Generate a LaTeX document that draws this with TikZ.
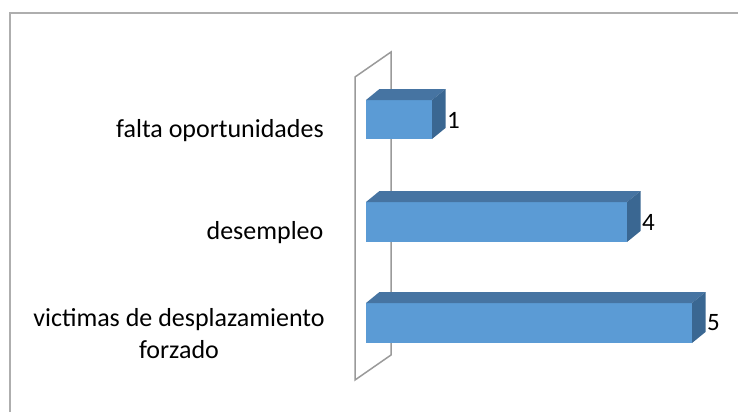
\documentclass[tikz,border=0pt]{standalone}
\usepackage{fontspec}
\setmainfont{Carlito}
\definecolor{barfront}{HTML}{5B9BD5}
\definecolor{bartop}{HTML}{4674A2}
\definecolor{barside}{HTML}{3A6792}
\definecolor{wallgray}{HTML}{9A9A9A}
\tikzset{
  catlabel/.style={align=center, font=\fontsize{26}{32}\selectfont, inner sep=0pt},
  vallabel/.style={anchor=west, font=\fontsize{25}{30}\selectfont, inner sep=0pt},
  wall/.style={draw=wallgray, line width=1.5pt},
}
\begin{document}
\begin{tikzpicture}[x=1pt, y=-1pt]
    \useasboundingbox (0,0) rectangle (738,412);
    % Frame
    \draw[draw=wallgray!80, line width=1.2pt] (10,412) -- (10,13) -- (738,13);

    % Wall
    \draw[wall] (355,380) -- (355,77) -- (391,52) -- (391,355) -- cycle;

    % Bars
    \fill[barfront] (366,100) rectangle (432,139);
    \fill[bartop] (366,100) -- (379.5,89) -- (445.5,89) -- (432,100) -- cycle;
    \fill[barside] (432,100) -- (445.5,89) -- (445.5,128) -- (432,139) -- cycle;

    \fill[barfront] (366,202) rectangle (627,242);
    \fill[bartop] (366,202) -- (379.5,191) -- (640.5,191) -- (627,202) -- cycle;
    \fill[barside] (627,202) -- (640.5,191) -- (640.5,231) -- (627,242) -- cycle;

    \fill[barfront] (366,303) rectangle (692,343);
    \fill[bartop] (366,303) -- (379.5,292) -- (705.5,292) -- (692,303) -- cycle;
    \fill[barside] (692,303) -- (705.5,292) -- (705.5,332) -- (692,343) -- cycle;

    % Nodes
    \node[catlabel] at (220,131) (C1) {falta oportunidades};
    \node[catlabel] at (265,233) (C2) {desempleo};
    \node[catlabel] at (179,334) (C3) {victimas de desplazamiento\\forzado};
    \node[vallabel] at (447,120) (V1) {1};
    \node[vallabel] at (642,222) (V2) {4};
    \node[vallabel] at (707,323) (V3) {5};
\end{tikzpicture}
\end{document}
